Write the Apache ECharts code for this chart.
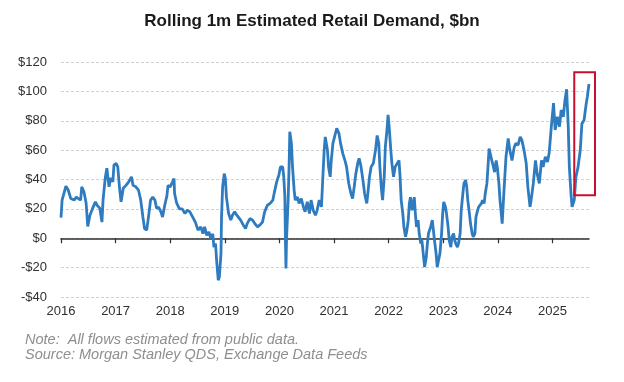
<!DOCTYPE html>
<html>
<head>
<meta charset="utf-8">
<script src="https://cdn.jsdelivr.net/npm/echarts@6/dist/echarts.min.js"></script>
<style>
html,body{margin:0;padding:0;background:#fff;}
#c{width:624px;height:382px;}
</style>
</head>
<body>
<div id="c"></div>
<script>
// Time in fractional years
var dates = [
2016.00,2016.02,2016.05,2016.09,2016.13,2016.18,2016.24,2016.28,2016.32,2016.36,2016.38,2016.42,2016.46,2016.49,2016.53,2016.58,2016.63,2016.66,2016.71,2016.75,2016.77,2016.81,2016.84,2016.86,2016.88,2016.91,2016.95,2016.97,
2017.01,2017.04,2017.07,2017.10,2017.14,2017.19,2017.24,2017.29,2017.32,2017.37,2017.42,2017.46,2017.50,2017.53,2017.57,2017.61,2017.64,2017.68,2017.72,2017.75,2017.79,2017.83,2017.86,2017.90,2017.94,2017.96,
2018.00,2018.03,2018.07,2018.08,2018.12,2018.17,2018.22,2018.27,2018.31,2018.36,2018.41,2018.46,2018.51,2018.56,2018.60,2018.63,2018.67,2018.71,2018.74,2018.78,2018.80,2018.83,2018.85,2018.88,2018.90,2018.93,2018.94,2018.96,2018.99,
2019.01,2019.03,2019.07,2019.11,2019.14,2019.18,2019.22,2019.25,2019.29,2019.34,2019.38,2019.41,2019.46,2019.51,2019.55,2019.60,2019.64,2019.69,2019.73,2019.78,2019.83,2019.88,2019.91,2019.95,2019.99,
2020.02,2020.06,2020.08,2020.10,2020.11,2020.12,2020.13,2020.16,2020.18,2020.19,2020.22,2020.24,2020.27,2020.29,2020.33,2020.36,2020.40,2020.44,2020.47,2020.51,2020.55,2020.58,2020.62,2020.66,2020.69,2020.73,2020.77,2020.79,2020.82,2020.84,2020.85,2020.88,2020.90,2020.93,2020.95,2020.98,
2021.01,2021.05,2021.09,2021.12,2021.16,2021.20,2021.23,2021.27,2021.31,2021.34,2021.37,2021.40,2021.44,2021.46,2021.49,2021.53,2021.56,2021.60,2021.62,2021.65,2021.68,2021.72,2021.76,2021.79,2021.82,2021.84,2021.87,2021.89,2021.92,2021.94,2021.97,2021.99,
2022.01,2022.04,2022.06,2022.09,2022.12,2022.16,2022.19,2022.21,2022.23,2022.26,2022.28,2022.31,2022.33,2022.36,2022.38,2022.40,2022.43,2022.47,2022.49,2022.51,2022.54,2022.56,2022.59,2022.61,2022.64,2022.66,2022.69,2022.71,2022.73,2022.77,2022.80,2022.82,2022.84,2022.87,2022.89,2022.92,2022.94,2022.97,2022.99,
2023.01,2023.04,2023.06,2023.09,2023.11,2023.14,2023.16,2023.19,2023.21,2023.23,2023.26,2023.28,2023.31,2023.33,2023.36,2023.38,2023.41,2023.43,2023.45,2023.48,2023.50,2023.53,2023.55,2023.58,2023.60,2023.63,2023.65,2023.67,2023.70,2023.72,2023.75,2023.77,2023.80,2023.82,2023.84,2023.87,2023.89,2023.92,2023.94,2023.97,2023.99,
2024.02,2024.04,2024.08,2024.11,2024.15,2024.19,2024.22,2024.26,2024.30,2024.33,2024.37,2024.41,2024.44,2024.48,2024.52,2024.55,2024.59,2024.61,2024.65,2024.69,2024.72,2024.76,2024.80,2024.83,2024.87,2024.91,2024.94,2024.98,
2025.02,2025.05,2025.09,2025.13,2025.16,2025.20,2025.23,2025.26,2025.29,2025.31,2025.34,2025.36,2025.40,2025.43,2025.47,2025.51,2025.54,2025.58,2025.62,2025.64,2025.67
];
// Rolling 1m estimated retail demand, $bn
var demand = [
14,26,27,35.5,33,27,26,28,27,26,35,31.6,24,8,15.7,20.5,24.8,22.5,20.5,11,26,41,47.7,46.4,35,41,38.4,49.8,
51,48.6,35,24.8,34,36,38.4,41.8,36,35,32.7,26,14.5,6.6,5.5,16.8,26,28,26,20.5,21,18,14.5,22.5,29,36,
35,37.3,40.7,30.5,23.7,20,20,16.8,19,18,14.5,11,5.5,7.7,3.2,7.7,2,4.3,0,3,-6,-3.6,-15,-28.6,-26.4,-10.4,14.5,35,44,
40.7,28,16.8,12.3,15.7,18,15.7,15.7,12.3,8.9,6.6,10,13.4,12.3,10,7.7,8.9,11,18,22.5,23.7,26,31.6,38.4,43,
48.6,48.6,41.8,28,-1.4,-20.5,-1.4,26,53,72.5,64.6,48.6,32.7,26,28,23.7,27,21.4,18,24.8,16.8,26,19,15.7,19,26,21.4,37.3,60,69,66.8,60,48.6,41.8,53,64.6,
69,74.8,71.4,64.6,57.8,53,48.6,37.3,30.5,27,35,44,52,54.4,49.8,39.6,30.5,23.7,30.5,41.8,48.6,51,60,70,64.6,48.6,32.7,26,41.8,62.3,73.7,84,
76,60,51,41.8,48.6,51,53,41.8,26,16.8,7.7,1,4.3,12.3,23.7,28,19,28,16.8,7.7,12.3,3.2,-3.6,-1.4,-12.7,-19.6,-12.7,-3.6,3.2,7.7,12.3,5.5,-1.4,-10.4,-19.6,-20.7,-10.4,3.2,16.8,
24.8,21.4,16.8,7.7,-1.4,-6,1,3.2,-1.4,-3.6,-6,-3.6,3.2,19,30.5,37.3,39.6,35,26,16.8,10,3.2,1,3.2,14.5,19,21.4,22.5,23.7,26,23.7,30.5,37.3,48.6,61,60,53,48.6,45,53,48.6,
37.3,26,10,30.5,55.5,68,60,53,62,64.6,63.4,69,67,60,51,35,21.4,26,37.3,53,44,37.3,53,48.6,55.5,52,57.8,76,
92,73.7,82.7,76,87.3,82.7,94,101.4,76,48.6,30.5,21.4,26,41.8,48.6,60,78,80.5,92,96.4,105
];
var yearTicks = [2016,2017,2018,2019,2020,2021,2022,2023,2024,2025];
// Highlight box in data units: [x0, x1, yLow, yHigh]
var highlightBox = [2025.40, 2025.78, 29.3, 113];

var seriesData = dates.map(function (d, i) { return [d, demand[i]]; });
var FONT = 'Liberation Sans, Arial, sans-serif';

var chart = echarts.init(document.getElementById('c'), null, {renderer: 'canvas'});
chart.setOption({
  animation: false,
  backgroundColor: '#ffffff',
  title: {
    text: 'Rolling 1m Estimated Retail Demand, $bn',
    left: 'center',
    top: 8,
    textStyle: {fontFamily: FONT, fontSize: 17, fontWeight: 'bold', color: '#1a1a1a'}
  },
  grid: {left: 61, right: 35, top: 62, bottom: 85, containLabel: false},
  xAxis: {
    type: 'value',
    min: 2016,
    max: 2025.67,
    axisLine: {show: true, onZero: true, lineStyle: {color: '#303030', width: 1.5}},
    axisTick: {show: true, customValues: yearTicks, length: 5, lineStyle: {color: '#303030', width: 1.2}},
    axisLabel: {
      customValues: yearTicks,
      margin: 8,
      fontFamily: FONT, fontSize: 13, color: '#303030',
      formatter: function (v) { return String(Math.round(v)); }
    },
    splitLine: {show: false}
  },
  yAxis: {
    type: 'value',
    min: -40,
    max: 120,
    interval: 20,
    axisLine: {show: false},
    axisTick: {show: false},
    axisLabel: {
      margin: 14,
      fontFamily: FONT, fontSize: 13, color: '#303030',
      formatter: function (v) { return (v < 0 ? '-$' : '$') + Math.abs(v); }
    },
    splitLine: {show: true, lineStyle: {color: '#d2d2d2', type: [3, 2], width: 1}}
  },
  series: [{
    type: 'line',
    data: seriesData,
    showSymbol: false,
    symbol: 'none',
    lineStyle: {color: '#2f7bbf', width: 2.8},
    z: 3
  }]
});

var p0 = chart.convertToPixel({gridIndex: 0}, [highlightBox[0], highlightBox[3]]);
var p1 = chart.convertToPixel({gridIndex: 0}, [highlightBox[1], highlightBox[2]]);
chart.setOption({
  graphic: [
    {
      type: 'rect',
      shape: {x: p0[0], y: p0[1], width: p1[0] - p0[0], height: p1[1] - p0[1]},
      style: {fill: 'none', stroke: '#c8102e', lineWidth: 2},
      z: 10
    },
    {
      type: 'text', left: 25, top: 332,
      style: {text: 'Note:  All flows estimated from public data.', font: 'italic 14.5px ' + FONT, fill: '#8e8e8e'}
    },
    {
      type: 'text', left: 25, top: 347,
      style: {text: 'Source: Morgan Stanley QDS, Exchange Data Feeds', font: 'italic 14.5px ' + FONT, fill: '#8e8e8e'}
    }
  ]
});
</script>
</body>
</html>
